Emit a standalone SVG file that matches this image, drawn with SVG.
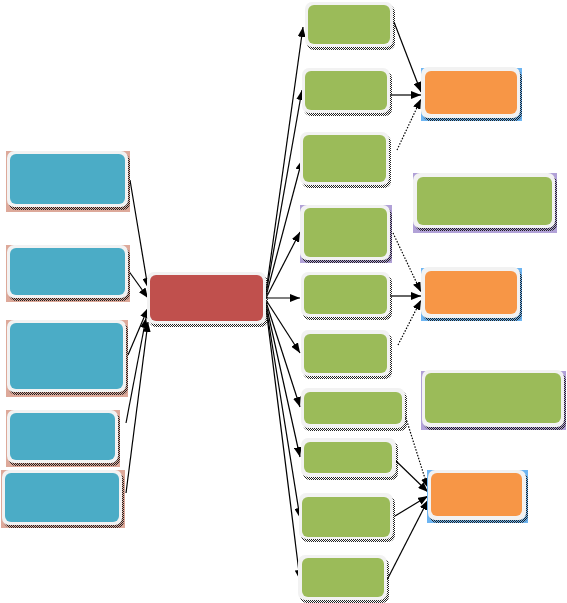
<svg xmlns="http://www.w3.org/2000/svg" width="567" height="603" viewBox="0 0 567 603">
<defs>
<pattern id="dither" width="2" height="2" patternUnits="userSpaceOnUse">
<rect width="2" height="2" fill="#ffffff" fill-opacity="0"/>
<rect x="0" y="0" width="1" height="1" fill="#222"/>
<rect x="1" y="1" width="1" height="1" fill="#222"/>
</pattern>
<marker id="ah" markerWidth="10" markerHeight="8" refX="10" refY="4" orient="auto" markerUnits="userSpaceOnUse">
<path d="M0,0 L10,4 L0,8 z" fill="#000"/>
</marker>
</defs>
<style>
.sh{fill:url(#dither)}
.wb{fill:#F2F2F2}
.blue{fill:#4BACC6}
.red{fill:#C0504D}
.green{fill:#9BBB59}
.orange{fill:#F79646}
.bgs{fill:#DDA99A}
.bgp{fill:#B1A1D7}
.bgb{fill:#6DB5F2}
.c{stroke:#000;stroke-width:1.2;fill:none;marker-end:url(#ah)}
.d{stroke-dasharray:1.5 1.5}
</style>

<g id="connectors">
<line class="c" x1="130" y1="180" x2="148" y2="288"/>
<line class="c" x1="128" y1="270" x2="148" y2="298"/>
<line class="c" x1="128" y1="355" x2="148" y2="308"/>
<line class="c" x1="126" y1="423" x2="146" y2="318"/>
<line class="c" x1="126" y1="493" x2="148" y2="322"/>

<line class="c" x1="266" y1="292" x2="303" y2="27"/>
<line class="c" x1="266" y1="294" x2="302" y2="90"/>
<line class="c" x1="266" y1="296" x2="302" y2="160"/>
<line class="c" x1="266" y1="298" x2="300" y2="232"/>
<line class="c" x1="266" y1="298" x2="300" y2="298"/>
<line class="c" x1="266" y1="300" x2="300" y2="353"/>
<line class="c" x1="266" y1="302" x2="300" y2="407"/>
<line class="c" x1="266" y1="304" x2="300" y2="457"/>
<line class="c" x1="266" y1="306" x2="300" y2="518"/>
<line class="c" x1="266" y1="308" x2="300" y2="580"/>

<line class="c" x1="394" y1="22" x2="421" y2="92"/>
<line class="c" x1="390" y1="95" x2="421" y2="95"/>
<line class="c d" x1="397" y1="150" x2="421" y2="99"/>
<line class="c d" x1="393" y1="233" x2="421" y2="292"/>
<line class="c" x1="390" y1="296" x2="421" y2="296"/>
<line class="c d" x1="398" y1="345" x2="421" y2="300"/>
<line class="c d" x1="404" y1="412" x2="428" y2="488"/>
<line class="c" x1="395" y1="460" x2="428" y2="492"/>
<line class="c" x1="395" y1="516" x2="428" y2="496"/>
<line class="c" x1="387" y1="580" x2="428" y2="500"/>
</g>

<g id="b1"><rect class="bgs" x="6" y="151" width="124" height="61"/><rect class="sh" x="9" y="154" width="121" height="56" rx="7"/><rect class="wb" x="7" y="151" width="121" height="56" rx="7"/><rect class="blue" x="10" y="154" width="115" height="50" rx="6"/></g>
<g id="b2"><rect class="bgs" x="6" y="245" width="124" height="57"/><rect class="sh" x="9" y="248" width="121" height="53" rx="7"/><rect class="wb" x="7" y="245" width="121" height="53" rx="7"/><rect class="blue" x="10" y="248" width="115" height="47" rx="6"/></g>
<g id="b3"><rect class="bgs" x="6" y="320" width="122" height="77"/><rect class="sh" x="9" y="323" width="119" height="72" rx="7"/><rect class="wb" x="7" y="320" width="119" height="72" rx="7"/><rect class="blue" x="10" y="323" width="113" height="66" rx="6"/></g>
<g id="b4"><rect class="bgs" x="6" y="410" width="114" height="57"/><rect class="sh" x="9" y="413" width="111" height="53" rx="7"/><rect class="wb" x="7" y="410" width="111" height="53" rx="7"/><rect class="blue" x="10" y="413" width="105" height="47" rx="6"/></g>
<g id="b5"><rect class="bgs" x="1" y="470" width="124" height="58"/><rect class="sh" x="4" y="473" width="120" height="55" rx="7"/><rect class="wb" x="2" y="470" width="120" height="55" rx="7"/><rect class="blue" x="5" y="473" width="114" height="49" rx="6"/></g>

<g id="center"><rect class="sh" x="149" y="275" width="119" height="52" rx="7"/><rect class="wb" x="147" y="272" width="119" height="52" rx="7"/><rect class="red" x="150" y="275" width="113" height="46" rx="6"/></g>

<g id="g1"><rect class="sh" x="307" y="5" width="88" height="45" rx="7"/><rect class="wb" x="305" y="2" width="88" height="45" rx="7"/><rect class="green" x="308" y="5" width="82" height="39" rx="6"/></g>
<g id="g2"><rect class="sh" x="304" y="71" width="88" height="45" rx="7"/><rect class="wb" x="302" y="68" width="88" height="45" rx="7"/><rect class="green" x="305" y="71" width="82" height="39" rx="6"/></g>
<g id="g3"><rect class="sh" x="302" y="135" width="89" height="53" rx="7"/><rect class="wb" x="300" y="132" width="89" height="53" rx="7"/><rect class="green" x="303" y="135" width="83" height="47" rx="6"/></g>
<g id="g4"><rect class="bgp" x="300" y="205" width="92" height="58"/><rect class="sh" x="302" y="208" width="90" height="55" rx="7"/><rect class="wb" x="300" y="205" width="90" height="55" rx="7"/><rect class="green" x="304" y="208" width="83" height="49" rx="6"/></g>
<g id="g5"><rect class="sh" x="303" y="275" width="89" height="45" rx="7"/><rect class="wb" x="301" y="272" width="89" height="45" rx="7"/><rect class="green" x="304" y="275" width="83" height="39" rx="6"/></g>
<g id="g6"><rect class="sh" x="303" y="333" width="89" height="46" rx="7"/><rect class="wb" x="301" y="330" width="89" height="46" rx="7"/><rect class="green" x="304" y="334" width="83" height="39" rx="6"/></g>
<g id="g7"><rect class="sh" x="303" y="391" width="104" height="40" rx="7"/><rect class="wb" x="301" y="388" width="104" height="40" rx="7"/><rect class="green" x="304" y="392" width="98" height="32" rx="6"/></g>
<g id="g8"><rect class="sh" x="303" y="441" width="95" height="39" rx="7"/><rect class="wb" x="301" y="438" width="95" height="39" rx="7"/><rect class="green" x="304" y="442" width="88" height="31" rx="6"/></g>
<g id="g9"><rect class="sh" x="301" y="496" width="94" height="46" rx="7"/><rect class="wb" x="299" y="493" width="94" height="46" rx="7"/><rect class="green" x="302" y="497" width="88" height="40" rx="6"/></g>
<g id="g10"><rect class="sh" x="300" y="558" width="89" height="45" rx="7"/><rect class="wb" x="298" y="555" width="89" height="45" rx="7"/><rect class="green" x="302" y="558" width="82" height="39" rx="6"/></g>

<g id="o1"><rect class="bgb" x="421" y="68" width="101" height="53"/><rect class="sh" x="423" y="70" width="99" height="51" rx="7"/><rect class="wb" x="421" y="67" width="99" height="51" rx="7"/><rect class="orange" x="425" y="71" width="92" height="43" rx="6"/></g>
<g id="w1"><rect class="bgp" x="413" y="173" width="144" height="60"/><rect class="sh" x="415" y="176" width="142" height="55" rx="7"/><rect class="wb" x="413" y="173" width="142" height="55" rx="7"/><rect class="green" x="417" y="177" width="135" height="48" rx="6"/></g>
<g id="o2"><rect class="bgb" x="421" y="268" width="101" height="53"/><rect class="sh" x="423" y="270" width="99" height="51" rx="7"/><rect class="wb" x="421" y="267" width="99" height="51" rx="7"/><rect class="orange" x="425" y="271" width="92" height="43" rx="6"/></g>
<g id="w2"><rect class="bgp" x="421" y="371" width="145" height="59"/><rect class="sh" x="424" y="373" width="142" height="57" rx="7"/><rect class="wb" x="422" y="370" width="142" height="57" rx="7"/><rect class="green" x="425" y="373" width="136" height="50" rx="6"/></g>
<g id="o3"><rect class="bgb" x="427" y="470" width="101" height="53"/><rect class="sh" x="430" y="473" width="98" height="50" rx="7"/><rect class="wb" x="428" y="470" width="98" height="50" rx="7"/><rect class="orange" x="431" y="473" width="91" height="43" rx="6"/></g>
</svg>
